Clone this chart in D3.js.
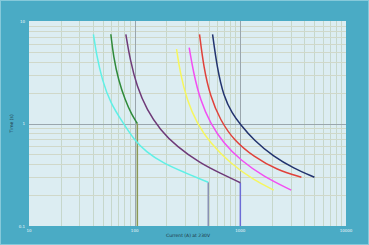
<!DOCTYPE html>
<html>
<head>
<meta charset="utf-8">
<script src="https://cdn.jsdelivr.net/npm/d3@7"></script>
<style>
  body { margin: 0; background: #4aabc5; }
  text { font-family: "DejaVu Sans", sans-serif; }
</style>
</head>
<body>
<div class="chart"></div>
<script>
// time-current trip curves, log/log
let W = 369, H = 245;
let margin = { top: 21, right: 23, bottom: 19, left: 29 };
let width = W - margin.left - margin.right;
let height = H - margin.top - margin.bottom;

// axis ticks
let xTicks = [10, 100, 1000, 10000];
let yTicks = [0.1, 1, 10];
let xTitle = "Current (A) at 230V";
let yTitle = "Time (s)";

// curves: current (A) and time (s)
let cyanI = [40.7, 43.5, 49.2, 59, 77.8, 98, 128, 186, 301, 497];
let cyanT = [7.42, 4.7, 2.66, 1.58, 1.01, 0.7, 0.53, 0.41, 0.33, 0.267];
let greenI = [59.5, 63, 70.2, 81.3, 94, 106];
let greenT = [7.42, 4.48, 2.66, 1.69, 1.21, 1.0];
let purpleI = [82.5, 90.6, 105, 130.5, 174.5, 251, 418, 646, 1000];
let purpleT = [7.42, 4.16, 2.29, 1.355, 0.865, 0.594, 0.409, 0.327, 0.264];
let yellowI = [249, 270, 312, 389, 520, 804, 1337, 2070];
let yellowT = [5.33, 3.09, 1.69, 1.0, 0.641, 0.409, 0.281, 0.224];
let magentaI = [328, 361, 418, 520, 695, 1000, 1663, 3027];
let magentaT = [5.49, 3.09, 1.69, 1.0, 0.641, 0.44, 0.303, 0.224];
let redI = [411, 449, 520, 646, 864, 1337, 2228, 3785];
let redT = [7.42, 3.58, 1.83, 1.08, 0.69, 0.474, 0.352, 0.299];
let navyI = [546, 601, 695, 840, 1000, 1337, 2070, 3199, 5025];
let navyT = [7.42, 3.58, 1.83, 1.25, 0.98, 0.69, 0.474, 0.366, 0.299];

let curveCurrents = [cyanI, greenI, purpleI, yellowI, magentaI, redI, navyI];
let curveTimes = [cyanT, greenT, purpleT, yellowT, magentaT, redT, navyT];
let curveColors = ["#5ff0e6", "#2f8a3a", "#6e3a78", "#f6f65e", "#f24ef2", "#e0413a", "#22336e"];

// instantaneous drop lines (current, time where they start)
let dropI = [497, 106, 1000];
let dropT = [0.267, 1.0, 0.264];
let dropColors = ["#8a92b4", "#8d9a55", "#6c6cd6"];

let svg = d3
  .select(".chart")
  .append("svg")
  .attr("width", W)
  .attr("height", H);

svg
  .append("rect")
  .attr("x", 0.5)
  .attr("y", 0.5)
  .attr("width", W - 1)
  .attr("height", H - 1)
  .style("fill", "#4aabc5")
  .style("stroke", "#86c9da");

let g = svg.append("g").attr("transform", `translate(${margin.left}, ${margin.top})`);

let xScale = d3.scaleLog().domain([10, 10000]).range([0, width]);
let yScale = d3.scaleLog().domain([0.1, 10]).range([height, 0]);

g.append("rect")
  .attr("width", width)
  .attr("height", height)
  .style("fill", "#dcedf2");

// minor grid
let minorX = xScale.ticks().filter((d) => xTicks.indexOf(d) < 0);
let minorY = yScale.ticks().filter((d) => yTicks.indexOf(d) < 0);

g.selectAll(".gx")
  .data(minorX)
  .enter()
  .append("line")
  .attr("x1", (d) => Math.round(xScale(d)) + 0.5)
  .attr("x2", (d) => Math.round(xScale(d)) + 0.5)
  .attr("y1", 0)
  .attr("y2", height)
  .style("stroke", "#c6d7cb")
  .style("stroke-width", 1);

g.selectAll(".gy")
  .data(minorY)
  .enter()
  .append("line")
  .attr("y1", (d) => Math.round(yScale(d)) + 0.5)
  .attr("y2", (d) => Math.round(yScale(d)) + 0.5)
  .attr("x1", 0)
  .attr("x2", width)
  .style("stroke", "#d0d8c9")
  .style("stroke-width", 1);

// major grid
g.selectAll(".mx")
  .data(xTicks.slice(1, -1))
  .enter()
  .append("line")
  .attr("x1", (d) => Math.round(xScale(d)) + 0.5)
  .attr("x2", (d) => Math.round(xScale(d)) + 0.5)
  .attr("y1", 0)
  .attr("y2", height)
  .style("stroke", "#9aa6ad")
  .style("stroke-width", 1);

g.selectAll(".my")
  .data(yTicks.slice(1, -1))
  .enter()
  .append("line")
  .attr("y1", (d) => Math.round(yScale(d)) + 0.5)
  .attr("y2", (d) => Math.round(yScale(d)) + 0.5)
  .attr("x1", 0)
  .attr("x2", width)
  .style("stroke", "#9aa6ad")
  .style("stroke-width", 1);

// drop lines
g.selectAll(".drop")
  .data(dropI)
  .enter()
  .append("line")
  .attr("x1", (d) => xScale(d))
  .attr("x2", (d) => xScale(d))
  .attr("y1", (d, i) => yScale(dropT[i]))
  .attr("y2", height)
  .style("stroke", (d, i) => dropColors[i])
  .style("stroke-width", 1.5);

// curves, smoothed
let line = d3
  .line()
  .x((d) => xScale(d[0]))
  .y((d) => yScale(d[1]))
  .curve(d3.curveBasis);

g.selectAll(".curve")
  .data(curveCurrents)
  .enter()
  .append("path")
  .attr("d", (d, i) => line(d.map((c, j) => [c, curveTimes[i][j]])))
  .style("fill", "none")
  .style("stroke", (d, i) => curveColors[i])
  .style("stroke-width", 1.5);

// tick labels
g.selectAll(".xl")
  .data(xTicks)
  .enter()
  .append("text")
  .attr("x", (d) => xScale(d))
  .attr("y", height + 6)
  .attr("text-anchor", "middle")
  .style("font-size", "4px")
  .style("fill", "#eef8fb")
  .text((d) => d);

g.selectAll(".yl")
  .data(yTicks)
  .enter()
  .append("text")
  .attr("x", -4)
  .attr("y", (d) => yScale(d) + 1.5)
  .attr("text-anchor", "end")
  .style("font-size", "4px")
  .style("fill", "#eef8fb")
  .text((d) => d);

// axis titles
g.append("text")
  .attr("x", width / 2 + 0.5)
  .attr("y", height + 11)
  .attr("text-anchor", "middle")
  .style("font-size", "4.5px")
  .style("fill", "#1f3440")
  .text(xTitle);

g.append("text")
  .attr("transform", `translate(-16, ${height / 2}) rotate(-90)`)
  .attr("text-anchor", "middle")
  .style("font-size", "4.5px")
  .style("fill", "#1f3440")
  .text(yTitle);
</script>
</body>
</html>
